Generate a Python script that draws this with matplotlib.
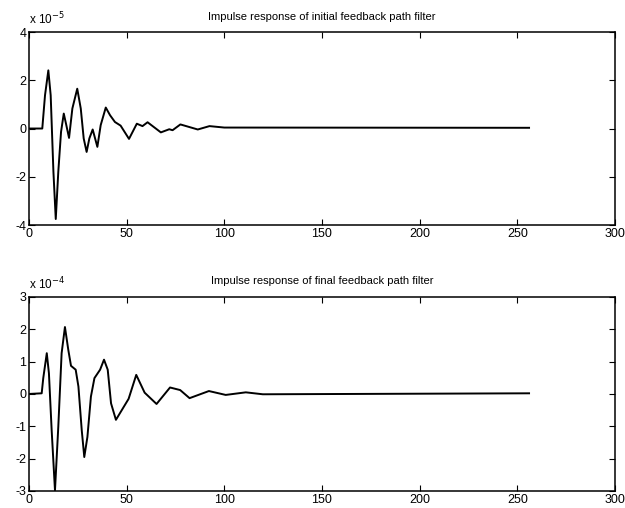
import numpy as np
import matplotlib
matplotlib.use('Agg')
import matplotlib.pyplot as plt

plt.rcParams['font.family'] = ['Liberation Sans', 'DejaVu Sans']
plt.rcParams['axes.unicode_minus'] = False

# Data (sample index, value)
# top plot: values in units of 1e-5
init_n = [0, 6.8, 8.2, 9.9, 11.1, 12.5, 13.7, 15, 16.4, 17.8, 19.1, 20.5, 22.2,
          24.7, 26.5, 28, 29.5, 30.9, 32.6, 35, 36.7, 39.3, 41.5, 44, 46.9,
          51.2, 55.2, 58.1, 60.7, 67.5, 71.8, 73.5, 77.5, 86.4, 92.4, 100, 256]
init_h = [0, 0, 1.38, 2.41, 1.38, -1.79, -3.75, -1.79, -0.14, 0.62, 0.14, -0.39, 0.83,
          1.65, 0.83, -0.41, -0.97, -0.41, -0.04, -0.76, 0.14, 0.87, 0.55, 0.27, 0.12,
          -0.43, 0.2, 0.1, 0.26, -0.16, -0.03, -0.07, 0.17, -0.04, 0.1, 0.04, 0.03]

# bottom plot: values in units of 1e-4
final_n = [0, 6.5, 7.3, 9.1, 10.2, 11.6, 13.3, 15, 16.7, 18.4, 20.1, 21.5, 23.9,
           25.3, 27, 28.3, 29.9, 31.7, 33.5, 36.4, 38.4, 40.3, 42, 44.5, 48, 51,
           54.9, 59.2, 65.3, 72.2, 77.4, 82.2, 92.1, 100.7, 111, 119.7, 256]
final_h = [0, 0.02, 0.49, 1.26, 0.64, -1.12, -2.98, -1.01, 1.26, 2.07, 1.37, 0.87, 0.75,
           0.23, -1.12, -1.95, -1.33, -0.08, 0.49, 0.75, 1.06, 0.75, -0.29, -0.8, -0.45, -0.15,
           0.59, 0.04, -0.31, 0.2, 0.12, -0.13, 0.09, -0.03, 0.05, -0.01, 0.02]

titles = ['Impulse response of initial feedback path filter',
          'Impulse response of final feedback path filter']
exps = [r'x 10$^{-5}$', r'x 10$^{-4}$']
xticks = [0, 50, 100, 150, 200, 250, 300]

fig = plt.figure(figsize=(6.25, 5.08), dpi=100)
ax1 = fig.add_axes([0.0464, 0.557, 0.9376, 0.380])
ax2 = fig.add_axes([0.0464, 0.0335, 0.9376, 0.382])

panels = [(ax1, init_n, init_h, [-4, 4], [-4, -2, 0, 2, 4]),
          (ax2, final_n, final_h, [-3, 3], [-3, -2, -1, 0, 1, 2, 3])]

for i, (ax, n, h, ylim, yt) in enumerate(panels):
    ax.plot(n, h, color='black', linewidth=1.4)
    ax.set_xlim(0, 300)
    ax.set_ylim(ylim)
    ax.set_xticks(xticks)
    ax.set_yticks(yt)
    ax.tick_params(direction='in', top=True, right=True, length=4,
                   labelsize=9, pad=2)
    for s in ax.spines.values():
        s.set_linewidth(1.1)
    ax.set_title(titles[i], fontsize=8, pad=9)
    ax.text(0.0, 1.025, exps[i], transform=ax.transAxes, ha='left',
            va='bottom', fontsize=8.5)

fig.savefig('out.png', dpi=100)
